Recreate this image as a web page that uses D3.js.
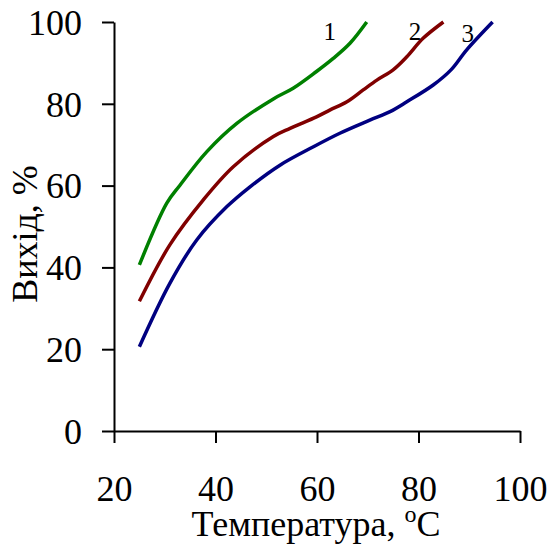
<!DOCTYPE html>
<html>
<head>
<meta charset="utf-8">
<script src="https://cdn.jsdelivr.net/npm/d3@7"></script>
<style>
  html, body { margin: 0; padding: 0; background: #fff; }
  svg { display: block; }
  text { font-family: "Liberation Serif", "Times New Roman", serif; fill: #000; }
</style>
</head>
<body>
<svg id="chart" width="551" height="549"></svg>
<script>
// Yield vs temperature, three series
const temp1  = [25, 30.4, 33, 38.3, 44.2, 51.4, 55.3, 59.9, 63.2, 66.5, 69.8];
const yield1 = [40.6, 55.7, 60.1, 68.3, 75.2, 81.2, 83.8, 87.9, 91.1, 94.8, 100];

const temp2  = [25, 31, 37.6, 43.5, 51.4, 54.7, 59.9, 62.6, 65.9, 69.1, 71.8, 75, 77.7, 80.9, 84.9];
const yield2 = [31.7, 45.5, 56.5, 64.6, 72, 74, 76.8, 78.5, 80.5, 83.4, 85.8, 88.3, 91.5, 96, 100];

const temp3  = [25, 31, 36.3, 42.2, 46.8, 52.7, 59.3, 64.5, 70.4, 74.4, 77.7, 82.9, 86.4, 89.5, 94.6];
const yield3 = [20.6, 36.1, 46.7, 54.8, 59.7, 65, 69.5, 72.8, 76, 78.1, 80.5, 84.6, 88.3, 93.2, 100];

const seriesLabels = ["1", "2", "3"];
const seriesColors = ["#008000", "#800000", "#000080"];
const xTicks = [20, 40, 60, 80, 100];
const yTicks = [0, 20, 40, 60, 80, 100];

const svg = d3.select("#chart");

const x = d3.scaleLinear().domain([20, 100]).range([114, 520]);
const y = d3.scaleLinear().domain([0, 100]).range([431, 22]);

// X axis
const gx = svg.append("g")
  .attr("transform", `translate(0,${y(0)})`)
  .call(d3.axisBottom(x).tickValues(xTicks).tickSize(12).tickSizeOuter(0));
gx.select(".domain").attr("stroke", "#000").attr("stroke-width", 2);
gx.selectAll(".tick line").attr("stroke", "#000").attr("stroke-width", 2);
gx.selectAll(".tick text")
  .attr("y", 70).attr("dy", 0)
  .style("font-size", "36px")
  .style("font-family", "Liberation Serif, Times New Roman, serif");

// Y axis
const gy = svg.append("g")
  .attr("transform", `translate(${x(20)},0)`)
  .call(d3.axisLeft(y).tickValues(yTicks).tickSize(12).tickPadding(20).tickSizeOuter(0));
gy.select(".domain").attr("stroke", "#000").attr("stroke-width", 2);
gy.selectAll(".tick line").attr("stroke", "#000").attr("stroke-width", 2);
gy.selectAll(".tick text")
  .attr("dy", "0.34em")
  .style("font-size", "36px")
  .style("font-family", "Liberation Serif, Times New Roman, serif");

// Curves
const line = d3.line()
  .x(d => x(d[0]))
  .y(d => y(d[1]))
  .curve(d3.curveCatmullRom.alpha(0.5));

const series = [
  d3.zip(temp1, yield1),
  d3.zip(temp2, yield2),
  d3.zip(temp3, yield3)
];

svg.append("g").selectAll("path")
  .data(series)
  .join("path")
  .attr("fill", "none")
  .attr("stroke", (d, i) => seriesColors[i])
  .attr("stroke-width", 3.5)
  .attr("stroke-linejoin", "round")
  .attr("d", line);

// Series numbers near the top ends of the curves
const labelPos = [[62.5, 95.5], [79.3, 95.5], [89.7, 95.2]];
svg.append("g").selectAll("text")
  .data(seriesLabels)
  .join("text")
  .attr("x", (d, i) => x(labelPos[i][0]))
  .attr("y", (d, i) => y(labelPos[i][1]))
  .attr("text-anchor", "middle")
  .style("font-size", "25px")
  .text(d => d);

// Axis titles
const xt = svg.append("text")
  .attr("x", 316)
  .attr("y", 536)
  .attr("text-anchor", "middle")
  .style("font-size", "36px");
xt.append("tspan").text("Температура, ");
xt.append("tspan").attr("dy", -14).style("font-size", "24px").text("o");
xt.append("tspan").attr("dy", 14).text("C");

svg.append("text")
  .attr("transform", "translate(37,234) rotate(-90)")
  .attr("text-anchor", "middle")
  .style("font-size", "36px")
  .text("Вихід, %");
</script>
</body>
</html>
